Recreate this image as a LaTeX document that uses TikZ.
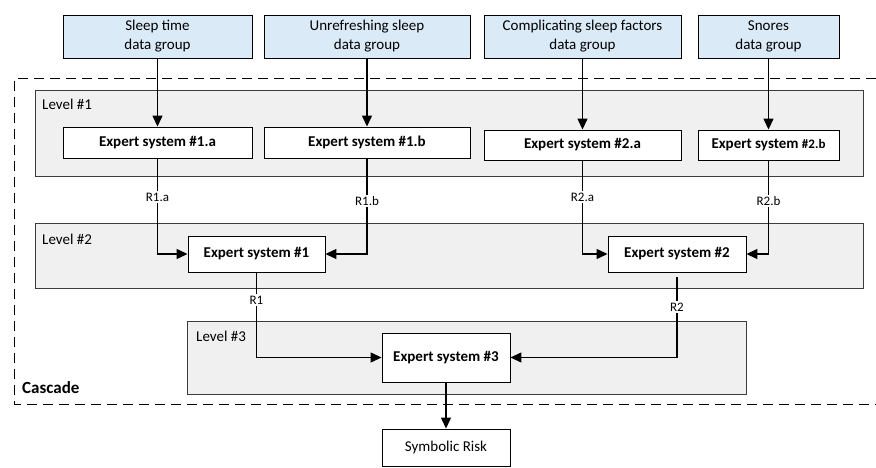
\documentclass[tikz,border=0pt]{standalone}
\usepackage{fontspec}
\setmainfont{Carlito}
\usetikzlibrary{arrows.meta,positioning}

\definecolor{databg}{RGB}{219,234,247}
\definecolor{levelbg}{RGB}{240,240,240}
\definecolor{levelline}{RGB}{60,60,60}

\tikzset{
  x=1pt, y=-1pt,
  datagroup/.style={draw=black, line width=0.9pt, fill=databg, rectangle, inner sep=0pt,
    align=center, font=\fontsize{15}{19}\selectfont},
  expert/.style={draw=black, line width=0.9pt, fill=white, rectangle, inner sep=0pt,
    align=center, font=\fontsize{15}{19}\selectfont\bfseries},
  result/.style={draw=black, line width=0.9pt, fill=white, rectangle, inner sep=0pt,
    align=center, font=\fontsize{15}{19}\selectfont},
  levelbox/.style={draw=levelline, line width=1pt, fill=levelbg},
  levelname/.style={anchor=west, inner sep=0pt, font=\fontsize{15}{18}\selectfont},
  flowlabel/.style={fill=white, inner sep=1.5pt, font=\fontsize{13}{15}\selectfont},
  flow/.style={line width=1.3pt, -{Triangle[length=11pt,width=10pt]}},
  plainflow/.style={line width=1.3pt},
  cascade/.style={draw=black, line width=1pt, dash pattern=on 10pt off 6pt},
}

\begin{document}
\begin{tikzpicture}
\useasboundingbox (0,0) rectangle (876,468);

% cascade frame (open on the right)
\draw[cascade] (876,79) -- (14,79) -- (14,404) -- (876,404);
\node[anchor=base west, inner sep=0pt, font=\fontsize{17}{20}\selectfont\bfseries] (cascadename) at (22,393) {Cascade};

% level panels
\draw[levelbox] (35,91) rectangle (863,177);
\draw[levelbox] (35,223) rectangle (863,288);
\draw[levelbox] (187,321) rectangle (746,394);
\node[levelname] (lv1) at (42,104) {Level \#1};
\node[levelname] (lv2) at (42,239) {Level \#2};
\node[levelname] (lv3) at (196,336) {Level \#3};

% input data groups
\node[datagroup, minimum width=189pt, minimum height=43pt] (d1) at (157.5,36.5) {Sleep time\\data group};
\node[datagroup, minimum width=206pt, minimum height=43pt] (d2) at (367,36.5) {Unrefreshing sleep\\data group};
\node[datagroup, minimum width=197pt, minimum height=43pt] (d3) at (582.5,36.5) {Complicating sleep factors\\data group};
\node[datagroup, minimum width=141pt, minimum height=43pt] (d4) at (768.5,36.5) {Snores\\data group};

% level 1 experts
\node[expert, minimum width=189pt, minimum height=31pt] (e1a) at (157.5,142.5) {Expert system \#1.a};
\node[expert, minimum width=206pt, minimum height=31pt] (e1b) at (367,142.5) {Expert system \#1.b};
\node[expert, minimum width=197pt, minimum height=30pt] (e2a) at (582.5,145) {Expert system \#2.a};
\node[expert, minimum width=141pt, minimum height=30pt] (e2b) at (768.5,145) {Expert system {\fontsize{13}{15}\selectfont\#2.b}};

% level 2 experts
\node[expert, minimum width=137pt, minimum height=36pt] (e1) at (256.5,254) {Expert system \#1};
\node[expert, minimum width=138pt, minimum height=36pt] (e2) at (677,254) {Expert system \#2};

% level 3 expert
\node[expert, minimum width=128pt, minimum height=49pt] (e3) at (446,357.5) {Expert system \#3};

% final output
\node[result, minimum width=128pt, minimum height=37pt] (risk) at (446,447.5) {Symbolic Risk};

% intermediate results
\node[flowlabel] (r1a) at (157.5,197) {R1.a};
\node[flowlabel] (r1b) at (367,201) {R1.b};
\node[flowlabel] (r2a) at (582.5,197) {R2.a};
\node[flowlabel] (r2b) at (768.5,201) {R2.b};
\node[flowlabel] (r1) at (256.5,300) {R1};
\node[flowlabel] (r2) at (677,307) {R2};

% data into level 1
\draw[flow] (d1) -- (e1a);
\draw[flow] (d2) -- (e1b);
\draw[flow] (d3) -- (e2a);
\draw[flow] (d4) -- (e2b);

% level 1 into level 2
\draw[plainflow] (e1a) -- (r1a);
\draw[flow] (r1a) |- (e1);
\draw[plainflow] (e1b) -- (r1b);
\draw[flow] (r1b) |- (e1);
\draw[plainflow] (e2a) -- (r2a);
\draw[flow] (r2a) |- (e2);
\draw[plainflow] (e2b) -- (r2b);
\draw[flow] (r2b) |- (e2);

% level 2 into level 3
\draw[plainflow] (e1) -- (r1);
\draw[flow] (r1) |- (e3);
\draw[plainflow, shorten <=5pt] (e2) -- (r2);
\draw[flow] (r2) |- (e3);

% level 3 out
\draw[flow] (e3) -- (risk);
\end{tikzpicture}
\end{document}
